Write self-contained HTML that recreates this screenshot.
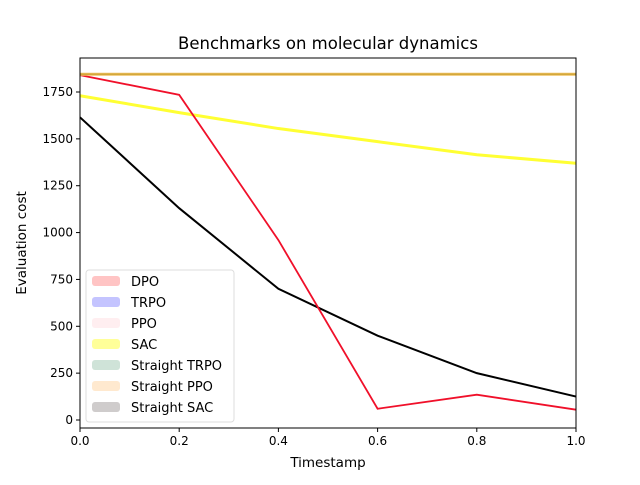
<!DOCTYPE html>
<html><head><meta charset="utf-8"><style>
body{margin:0;background:#fff;font-family:"Liberation Sans","DejaVu Sans",sans-serif}
svg text{font-family:"DejaVu Sans","Liberation Sans",sans-serif}
</style></head><body>
<svg id="c" width="640" height="480" xmlns="http://www.w3.org/2000/svg"></svg>
<script>
const xs=[0,0.2,0.4,0.6,0.8,1.0];
const dpo=[1840,1735,960,60,135,55];
const sac=[1730,1640,1555,1485,1415,1370];
const straightSac=[1615,1130,700,450,250,125];
const straightFlat=[1845,1845,1845,1845,1845,1845];
const xTicks=[0,0.2,0.4,0.6,0.8,1.0];
const xTickLabels=["0.0","0.2","0.4","0.6","0.8","1.0"];
const yTicks=[0,250,500,750,1000,1250,1500,1750];
const legendLabels=["DPO","TRPO","PPO","SAC","Straight TRPO","Straight PPO","Straight SAC"];
const legendColors=["#ffc4c4","#c4c4ff","#ffeef0","#ffff99","#cfe3d8","#ffe9cf","#cfcccc"];

const L=80,R=576,T=58,B=428;
const X=v=>L+v*(R-L);
const Y=v=>420-v*328/1750;
const svg=document.getElementById('c');
const NS="http://www.w3.org/2000/svg";
function mk(tag,attrs,txt){const e=document.createElementNS(NS,tag);for(const k in attrs)e.setAttribute(k,attrs[k]);if(txt!=null)e.textContent=txt;svg.appendChild(e);return e;}

let t=mk('text',{x:328,y:49,'text-anchor':'middle','font-size':16.5,fill:'#000'},'Benchmarks on molecular dynamics');



function line(vals,color,w,name){
  const p=mk('polyline',{points:vals.map((v,i)=>X(xs[i])+','+Y(v)).join(' '),fill:'none',stroke:color,'stroke-width':w});
  
  
}
line(sac,'#ffff33',3,'sac-line');
line(straightSac,'#000',2,'straight-sac-line');
line(dpo,'#f0102a',1.8,'dpo-line');
line(straightFlat,'#f0c060',3,'straight-ppo-line');
line(straightFlat,'#c8a030',1.2,'straight-trpo-line');

const ax=mk('rect',{x:L,y:T,width:R-L,height:B-T,fill:'none',stroke:'#000','stroke-width':1});



xTicks.forEach((v,i)=>{
  const l=mk('line',{x1:X(v),x2:X(v),y1:B,y2:B+4,stroke:'#000'});
  
  
  const tx=mk('text',{x:X(v),y:B+17,'text-anchor':'middle','font-size':12},xTickLabels[i]);
  
  
});
yTicks.forEach(v=>{
  const l=mk('line',{x1:L-4,x2:L,y1:Y(v),y2:Y(v),stroke:'#000'});
  
  
  const tx=mk('text',{x:L-7,y:Y(v)+4,'text-anchor':'end','font-size':12},String(v));
  
  
});
t=mk('text',{x:328,y:467,'text-anchor':'middle','font-size':13.5},'Timestamp');


t=mk('text',{x:26,y:243,'text-anchor':'middle','font-size':13.5,transform:'rotate(-90 26 243)'},'Evaluation cost');



const lg=mk('rect',{x:86,y:270,width:148,height:152,rx:3,fill:'#fff','fill-opacity':0.8,stroke:'#ddd'});


legendLabels.forEach((s,i)=>{
  const y=281+i*21;
  const r=mk('rect',{x:92,y:y-5,width:28,height:10,rx:3,fill:legendColors[i]});
  
  
  const tx=mk('text',{x:131,y:y+5,'font-size':13},s);
  
  
});
</script>
</body></html>
